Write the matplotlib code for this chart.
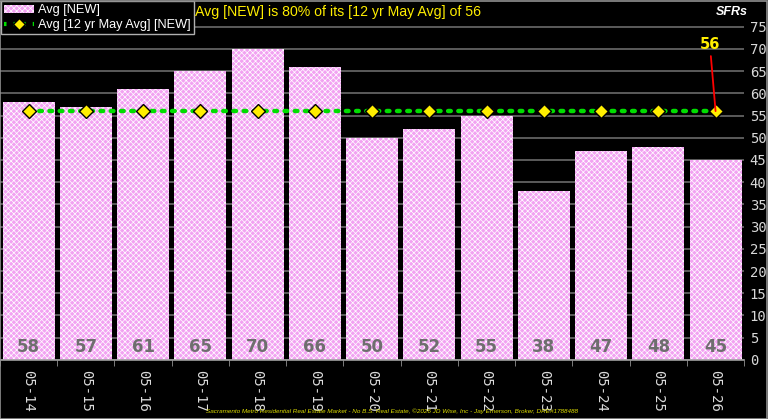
import matplotlib
matplotlib.use("Agg")
import matplotlib.pyplot as plt
from matplotlib.patches import Rectangle, Patch
from matplotlib.lines import Line2D
import numpy as np

categories = ["05-14", "05-15", "05-16", "05-17", "05-18", "05-19", "05-20",
              "05-21", "05-22", "05-23", "05-24", "05-25", "05-26"]
avg_new = [58, 57, 61, 65, 70, 66, 50, 52, 55, 38, 47, 48, 45]
avg_12yr = [56] * 13
yticks = list(range(0, 80, 5))

plt.rcParams['hatch.linewidth'] = 0.5
plt.rcParams['font.family'] = ['Liberation Sans', 'DejaVu Sans']

BAR = '#f2a2f2'
HATCH = 'xxxxxx'

fig = plt.figure(figsize=(7.68, 4.19), dpi=100, facecolor='black')
ax = fig.add_axes([0.0, 0.141, 0.969, 0.859])
ax.set_facecolor('black')

x = np.arange(len(categories))
ax.bar(x, avg_new, width=0.91, color=BAR, edgecolor='white', linewidth=0,
       hatch=HATCH, zorder=2)
ax.plot(x, avg_12yr, color='#00dd00', linestyle=(0, (0.6, 1.7)), linewidth=3.2,
        dash_capstyle='round', zorder=4)
ax.plot(x, avg_12yr, linestyle='none', marker='D', markersize=7,
        markerfacecolor='#ffee00', markeredgecolor='black', markeredgewidth=1, zorder=5)

for xi, v in zip(x, avg_new):
    ax.text(xi, 2.8, str(v), ha='center', va='center', fontsize=12,
            fontweight='bold', color='#6e6e6e', family='DejaVu Sans', zorder=6)

ax.set_xlim(-0.5, len(categories) - 0.5)
ax.set_ylim(0, 81)
ax.set_yticks(yticks)
ax.yaxis.tick_right()
ax.tick_params(axis='y', length=0, colors='#d8d8d8', labelsize=10, pad=4)
for lab in ax.get_yticklabels():
    lab.set_family('DejaVu Sans Mono')
ax.set_xticks(x)
ax.set_xticklabels(categories, rotation=-90, family='DejaVu Sans Mono',
                   fontsize=10, color='#dcdcdc')
ax.tick_params(axis='x', length=0, pad=7)
ax.set_xticks(np.arange(-0.5, len(categories), 1), minor=True)
ax.tick_params(axis='x', which='minor', length=4, color='#909090')
ax.grid(axis='y', color='#6a6a6a', linewidth=1.2, zorder=1)
ax.set_axisbelow(True)
for s in ['top', 'right', 'left']:
    ax.spines[s].set_visible(False)
ax.spines['bottom'].set_color('#a0a0a0')
ax.spines['bottom'].set_linewidth(1.2)
ax.spines['bottom'].set_zorder(6)

ax.annotate('56', xy=(12, 56), xytext=(11.9, 71), color='#ffee00',
            fontsize=10.5, fontweight='bold', ha='center', va='center',
            family='DejaVu Sans',
            arrowprops=dict(arrowstyle='-', color='red', lw=1.3, shrinkA=1, shrinkB=0),
            zorder=7)

handles = [Patch(facecolor=BAR, edgecolor='white', hatch=HATCH, linewidth=0),
           Line2D([0], [0], color='#00dd00', linestyle=(0, (0.6, 1.7)), linewidth=3,
                  marker='D', markersize=6, markerfacecolor='#ffee00',
                  markeredgecolor='black', markevery=[1])]
leg = ax.legend(handles, ['Avg [NEW]', 'Avg [12 yr May Avg] [NEW]'],
                loc='upper left', bbox_to_anchor=(0.0, 1.0), fontsize=9.2,
                frameon=True, fancybox=False, facecolor='black', edgecolor='#b0b0b0',
                labelcolor='white', borderpad=0.25, handlelength=2.3,
                handletextpad=0.3, labelspacing=0.2, borderaxespad=0.1)
leg.get_frame().set_alpha(1)
leg.set_zorder(10)

fig.text(0.44, 0.971, 'Avg [NEW] is 80% of its [12 yr May Avg] of 56',
         color='#ffee00', fontsize=10.2, ha='center', va='center')
fig.text(0.953, 0.971, 'SFRs', color='white', fontsize=9, fontweight='bold',
         fontstyle='italic', ha='center', va='center')
fig.text(0.51, 0.018,
         'Sacramento Metro Residential Real Estate Market - No B.S. Real Estate, ©2026 JD Wise, Inc - Jay Emerson, Broker, DRE#1788488',
         color='#dddd00', fontsize=4.6, fontstyle='italic', ha='center', va='center')

fig.patches.append(Rectangle((0.0005, 0.001), 0.998, 0.997, transform=fig.transFigure,
                             fill=False, edgecolor='#909090', linewidth=1.2))

fig.savefig('out.png', dpi=100, facecolor='black')
